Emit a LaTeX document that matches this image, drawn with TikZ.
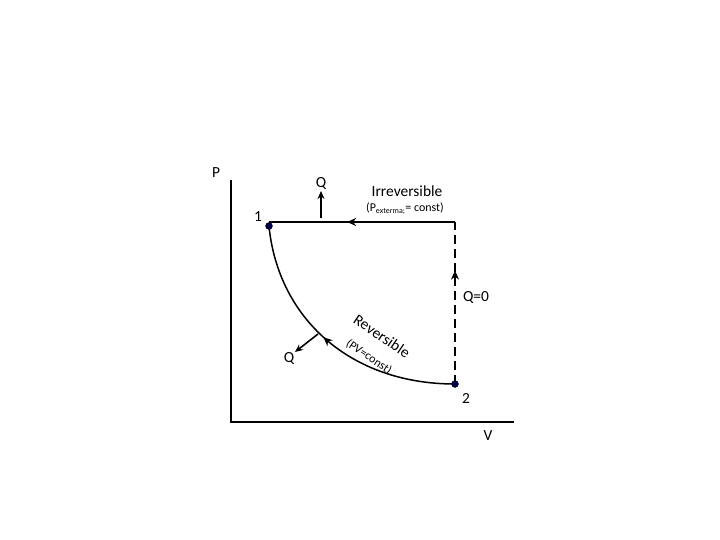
\documentclass[tikz,border=0pt]{standalone}
\usepackage{fontspec}
\setmainfont{Carlito}
\usetikzlibrary{arrows.meta,decorations.markings}
\tikzset{
  axis/.style={line width=1.2pt},
  proc/.style={line width=1.8pt},
  statept/.style={circle,fill=black!70!blue,draw=black,line width=0.4pt,inner sep=0pt,minimum size=7pt},
  heat/.style={line width=1.6pt,-{Stealth[length=8pt,width=7pt]}},
  lbl/.style={font=\fontsize{15.5}{18}\selectfont},
  small/.style={font=\fontsize{12}{14}\selectfont},
  flowat/.style={postaction={decorate},decoration={markings,
    mark=at position #1 with {\arrow{Stealth[length=9pt,width=8pt]}}}},
  flowback/.style={postaction={decorate},decoration={markings,
    mark=at position #1 with {\arrowreversed{Stealth[length=9pt,width=8pt]}}}},
}
\begin{document}
\begin{tikzpicture}[x=1bp,y=-1bp]
\useasboundingbox (0,0) rectangle (720,540);
% axes
\coordinate (ytop) at (231,180);
\coordinate (o) at (231,422);
\coordinate (xend) at (514,422);
\draw[axis] (ytop) -- (o) -- (xend);
\node[lbl] (P) at (216,173) {P};
\node[lbl] (V) at (488,436) {V};
% states
\coordinate (s1) at (269,226);
\coordinate (s2) at (455,384);
\coordinate (c) at (455,222);
\draw[proc,flowat=0.58] (c) -- (c -| s1);
\draw[proc,dash pattern=on 9bp off 5bp,flowat=0.7] (s2) -- (c);
\draw[line width=1.5pt,flowback=0.47] (s1) .. controls (278,318) and (350,384) .. (s2);
\node[statept] (n1) at (s1) {};
\node[statept] (n2) at (s2) {};
\node[lbl] (l1) at (258,217) {1};
\node[lbl] (l2) at (466,398) {2};
% heat
\coordinate (q1) at (321,218);
\draw[heat] (q1) -- ++(0,-27) node[lbl,above,inner sep=1pt] (Qup) {Q};
\coordinate (q2) at (318,334);
\draw[heat] (q2) -- (295,352) node[lbl,below left,inner sep=0pt] (Qdn) {Q};
\node[lbl] (Q0) at (476,298) {Q=0};
% labels
\node[lbl] (irr) at (407,191) {Irreversible};
\node[small] (pext) at (405,209) {(P\textsubscript{exterma;}= const)};
\node[lbl,rotate=-34,inner sep=0pt] (rev) at (382,336) {Reversible};
\node[small,rotate=-34,inner sep=0pt] (pvc) at (369,357) {(PV=const)};
\end{tikzpicture}
\end{document}
